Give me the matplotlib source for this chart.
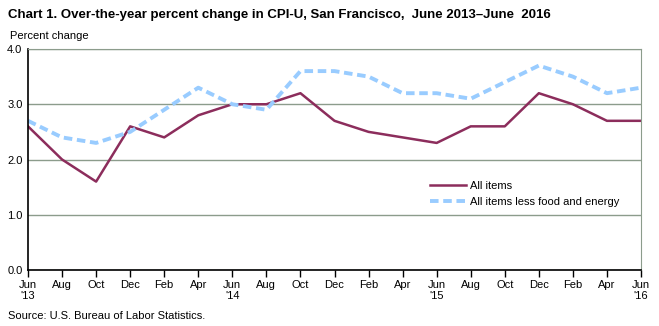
import numpy as np
import matplotlib.pyplot as plt

months = ['Jun', 'Aug', 'Oct', 'Dec', 'Feb', 'Apr'] * 3 + ['Jun']
years = {0: "'13", 6: "'14", 12: "'15", 18: "'16"}
all_items = [2.6, 2.0, 1.6, 2.6, 2.4, 2.8, 3.0, 3.0, 3.2, 2.7, 2.5, 2.4,
             2.3, 2.6, 2.6, 3.2, 3.0, 2.7, 2.7]
core = [2.7, 2.4, 2.3, 2.5, 2.9, 3.3, 3.0, 2.9, 3.6, 3.6, 3.5, 3.2,
        3.2, 3.1, 3.4, 3.7, 3.5, 3.2, 3.3]

plt.rcParams['font.family'] = ['Liberation Sans', 'DejaVu Sans']

fig = plt.figure(figsize=(6.59, 3.26), dpi=100)
ax = fig.add_axes([28 / 659, 1 - 270 / 326, 613 / 659, 221 / 326])

x = np.arange(len(months))
ax.plot(x, all_items, color='#8C2D5C', lw=1.8, label='All items')
ax.plot(x, core, color='#99CCFF', lw=2.8, ls=(0, (2.2, 1.2)),
        label='All items less food and energy')

ax.set_xlim(0, len(months) - 1)
ax.set_ylim(0, 4)
ax.set_yticks([0, 1, 2, 3, 4])
ax.set_yticklabels(['0.0', '1.0', '2.0', '3.0', '4.0'], fontsize=8)
ax.tick_params(axis='y', length=0, pad=4)
labels = [m + ('\n' + years[i] if i in years else '') for i, m in enumerate(months)]
ax.set_xticks(x)
ax.set_xticklabels(labels, fontsize=8, va='top', linespacing=1.1)
ax.tick_params(axis='x', direction='out', length=5, width=1, pad=2)

ax.grid(axis='y', color='#8C9C8C', lw=1)
ax.set_axisbelow(True)
for s in ['top', 'right']:
    ax.spines[s].set_color('#8C9C8C')
for s in ['left', 'bottom']:
    ax.spines[s].set_color('black')
    ax.spines[s].set_linewidth(1.2)

leg = ax.legend(loc='center left', bbox_to_anchor=(0.64, 0.345), frameon=False,
                fontsize=8, handlelength=3.2, handletextpad=0.4,
                labelspacing=0.55)

fig.text(8 / 659, 1 - 15 / 326,
         'Chart 1. Over-the-year percent change in CPI-U, San Francisco,  June 2013\u2013June  2016',
         fontsize=9.5, fontweight='bold', va='center')
fig.text(10 / 659, 1 - 36 / 326, 'Percent change', fontsize=8, va='center')
fig.text(8 / 659, 1 - 316 / 326, 'Source: U.S. Bureau of Labor Statistics.', fontsize=8,
         va='center')

fig.savefig('out.png', dpi=100)
